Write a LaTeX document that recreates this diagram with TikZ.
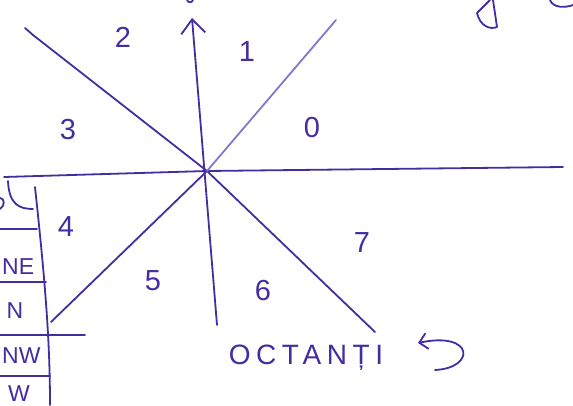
\documentclass[tikz,border=0pt]{standalone}
\usepackage{fontspec}
\setmainfont{Liberation Sans}
\usetikzlibrary{arrows.meta}
\definecolor{tinta}{RGB}{68,45,160}
\definecolor{tintaclara}{RGB}{130,118,205}
\begin{document}
\begin{tikzpicture}[x=1pt,y=-1pt,
    trazo/.style={tinta, line width=1.8pt, line cap=round, line join=round},
    cifra/.style={tinta, font=\fontsize{29}{29}\selectfont, inner sep=0pt},
    celda/.style={tinta, font=\fontsize{23}{23}\selectfont, inner sep=0pt}]
  \useasboundingbox[fill=white] (0,0) rectangle (573,405);
  \clip (0,0) rectangle (573,405);
  % centro y extremos de las rectas
  \coordinate (O) at (207,171);
  \coordinate (norte) at (192,18);
  \coordinate (sur) at (217,325);
  \coordinate (este) at (563,167);
  \coordinate (oeste) at (4,177);
  \coordinate (ne) at (336,20);
  \coordinate (so) at (51,322);
  \coordinate (no) at (25,28);
  \coordinate (se) at (375,332);
  \draw[trazo, -{Straight Barb[length=14pt,width=24pt,line width=1.8pt]}] (sur) -- (norte);
  \draw[trazo] (este) -- (O) -- (oeste);
  \draw[trazo] (no) -- (33,35) -- (O) -- (se);
  \draw[trazo] (so) -- (O);
  \draw[trazo, tintaclara] (O) -- (ne);
  % octantes
  \node[cifra] (c0) at (312,128) {0};
  \node[cifra] (c1) at (247,52) {1};
  \node[cifra] (c2) at (123,37) {2};
  \node[cifra] (c3) at (68,130) {3};
  \node[cifra] (c4) at (66,227) {4};
  \node[cifra] (c5) at (153,281) {5};
  \node[cifra] (c6) at (263,291) {6};
  \node[cifra] (c7) at (362,243) {7};
  \node[tinta, inner sep=0pt, font=\fontsize{28}{28}\selectfont\addfontfeature{LetterSpace=20}] (titulo) at (306,358) {OCTANȚI};
  \coordinate (giro) at (435,370);
  \draw[trazo, -{Straight Barb[length=8pt,width=16pt,line width=1.8pt]}] (giro) .. controls (476,368) and (474,331) .. (418,343);
  % tabla de la izquierda
  \draw[trazo] (35,187) .. controls (45,280) and (50,340) .. (50,405);
  \draw[trazo] (0,229) -- (37,229);
  \draw[trazo] (0,282) -- (46,282);
  \draw[trazo] (0,335) -- (85,335);
  \draw[trazo] (0,376) -- (50,376);
  \draw[trazo] (8,181) .. controls (9,205) and (20,209) .. (33,209);
  \draw[trazo] (0,198) .. controls (5,198) and (5,206) .. (0,209);
  \node[celda, anchor=west] (r1) at (2,267) {NE};
  \node[celda] (r2) at (15,311) {N};
  \node[celda, anchor=west] (r3) at (2,356) {NW};
  \node[celda, anchor=north] (r4) at (19,385) {W};
  % restos de escritura
  \draw[trazo] (187,0) .. controls (188,3) and (192,3) .. (193,0);
  \draw[trazo] (490,0) -- (477,13) .. controls (480,26) and (490,30) .. (497,27) -- (493,0);
  \draw[trazo] (550,0) .. controls (553,8) and (565,8) .. (573,5);
\end{tikzpicture}
\end{document}
